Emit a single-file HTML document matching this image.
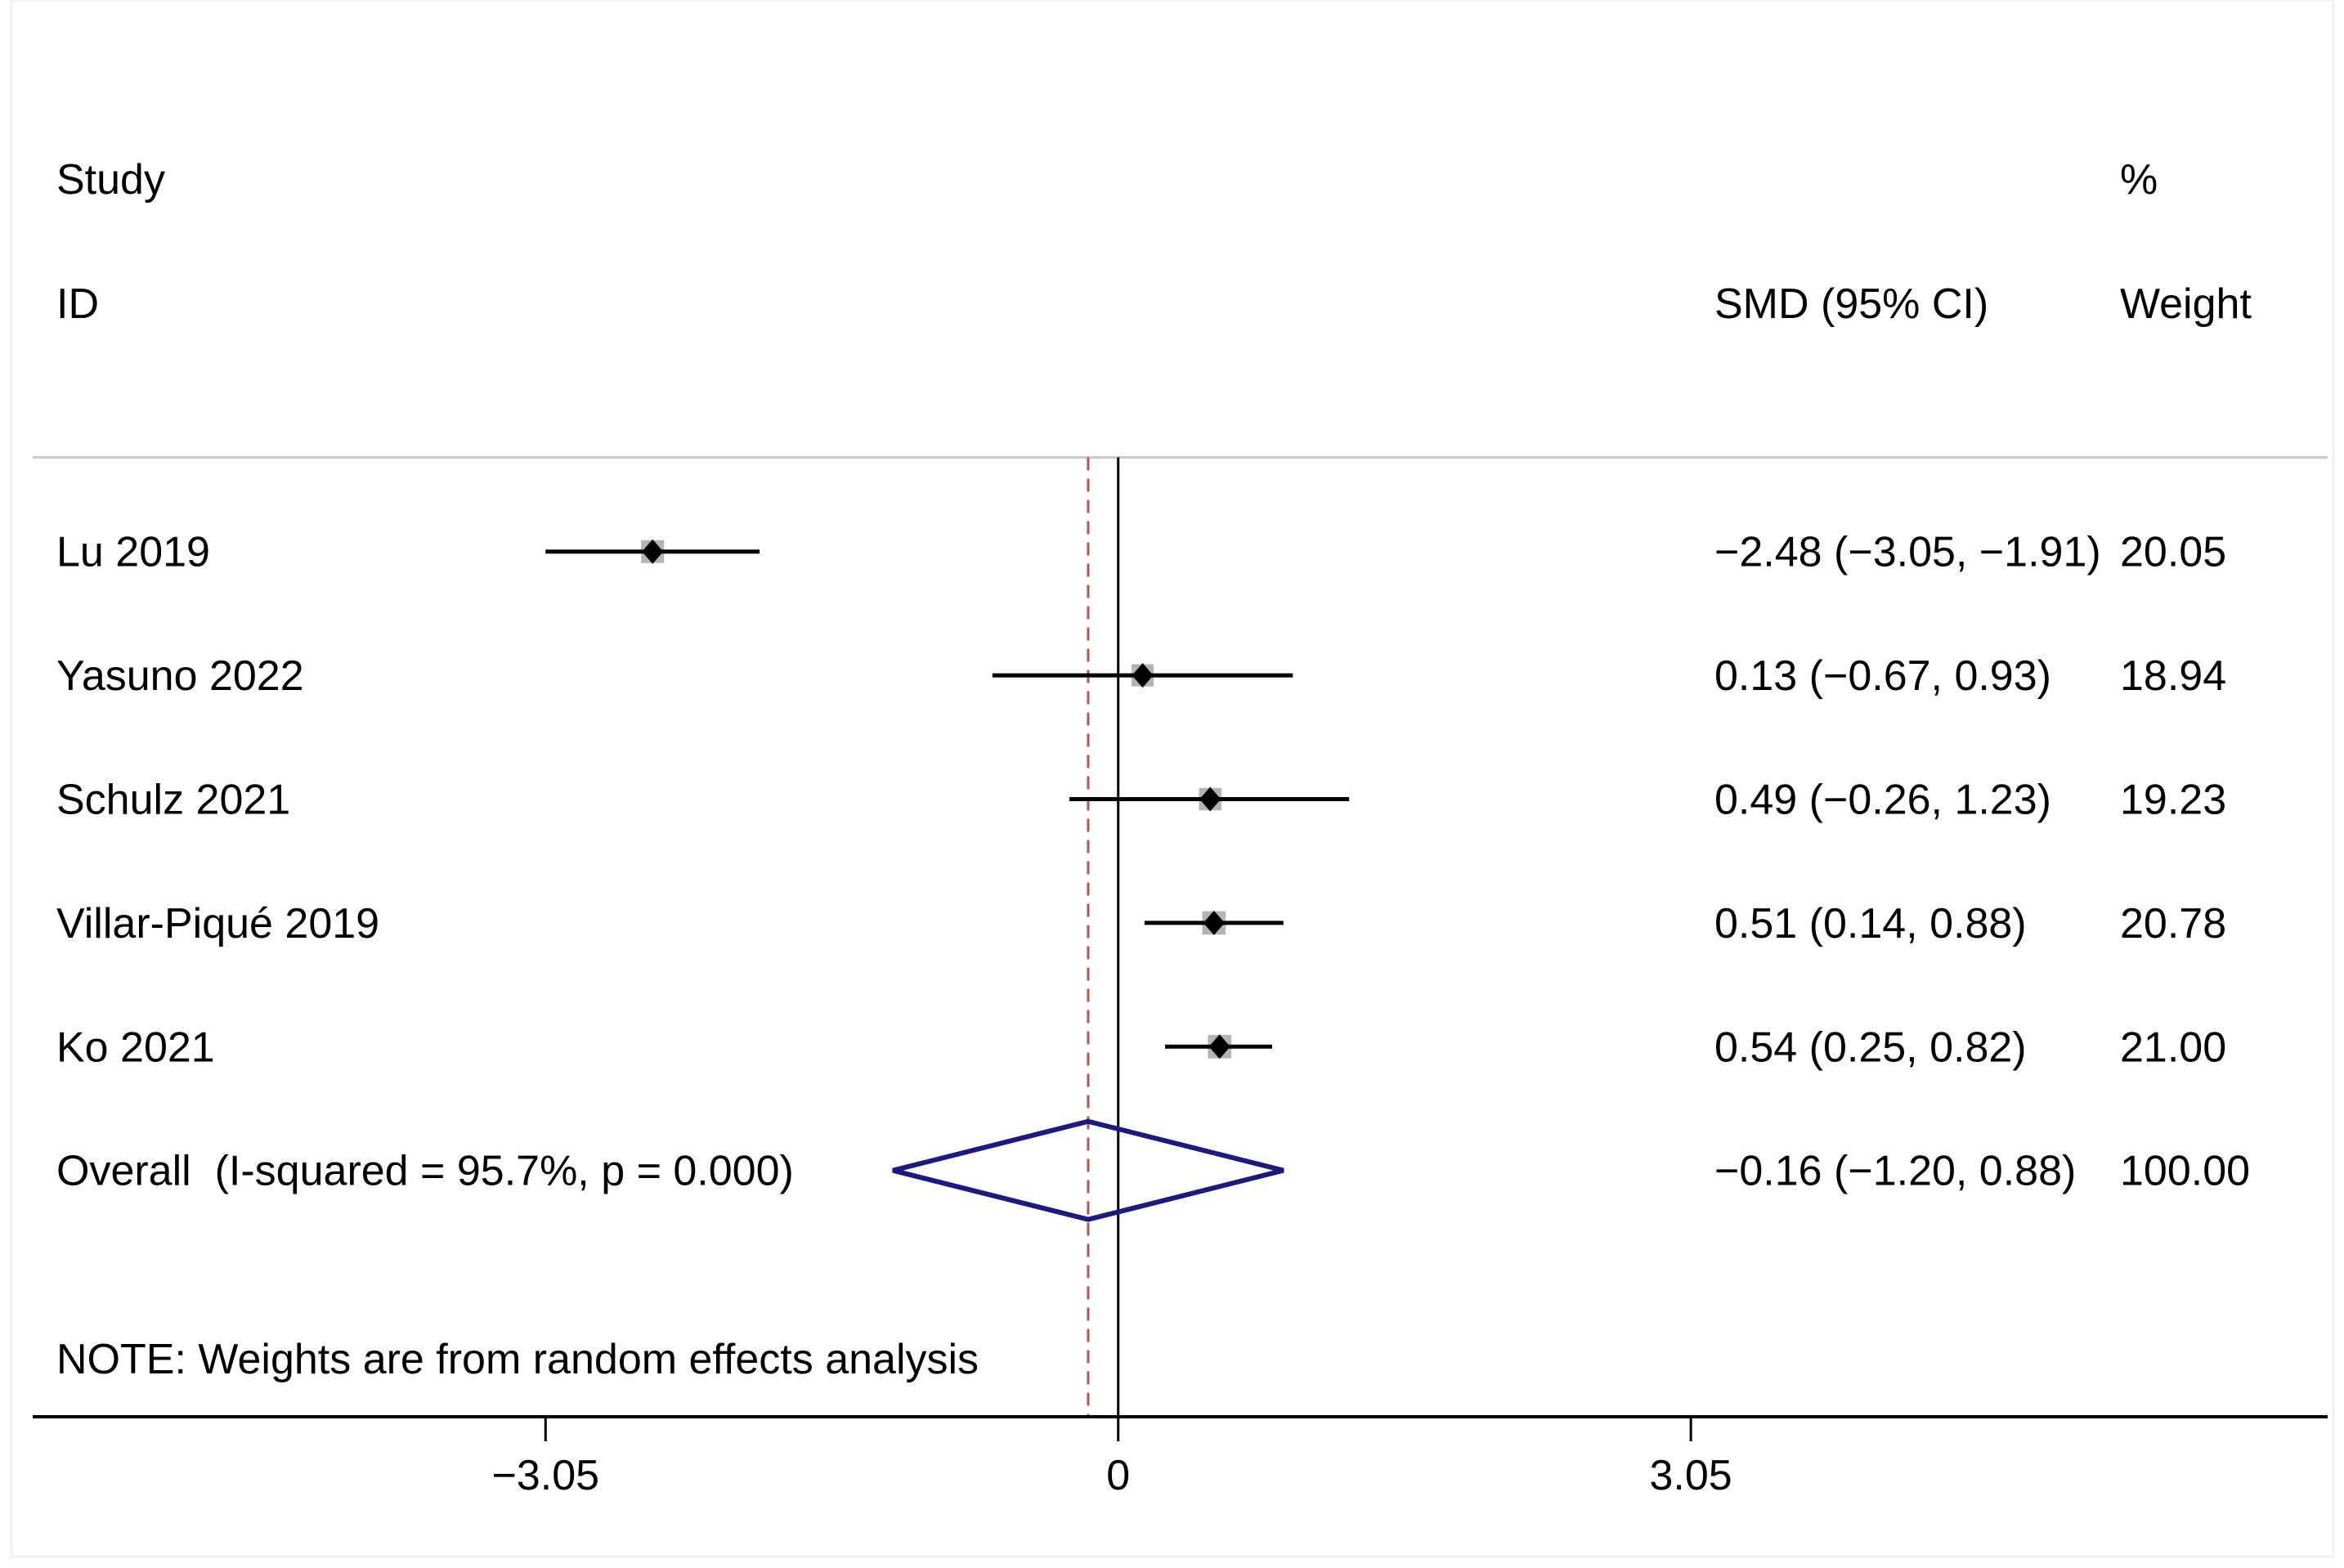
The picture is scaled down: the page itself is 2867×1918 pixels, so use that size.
<!DOCTYPE html>
<html><head><meta charset="utf-8"><style>
html,body{margin:0;padding:0;background:#fff}
svg{display:block}
text{font-family:"Liberation Sans",Arial,sans-serif;font-size:52px;fill:#000}
</style></head><body>
<svg id="chart" width="2867" height="1918" viewBox="0 0 2867 1918" xmlns="http://www.w3.org/2000/svg">
<rect x="14" y="0" width="2840" height="1904" fill="none" stroke="#f2f2f2" stroke-width="3"/>
<text x="69" y="237">Study</text>
<text x="2593" y="237">%</text>
<text x="69" y="389">ID</text>
<text x="2097" y="389">SMD (95% CI)</text>
<text x="2593" y="389">Weight</text>
<line x1="40" y1="559.5" x2="2847" y2="559.5" stroke="#c8c8c8" stroke-width="3"/>
<g id="marks"></g>
<text x="69" y="1680">NOTE: Weights are from random effects analysis</text>
</svg>
<script>
const studies = ["Lu 2019","Yasuno 2022","Schulz 2021","Villar-Piqué 2019","Ko 2021"];
const smd = [-2.48, 0.13, 0.49, 0.51, 0.54];
const lower = [-3.05, -0.67, -0.26, 0.14, 0.25];
const upper = [-1.91, 0.93, 1.23, 0.88, 0.82];
const weights = ["20.05","18.94","19.23","20.78","21.00"];
const ciLabels = ["\u22122.48 (\u22123.05, \u22121.91)","0.13 (\u22120.67, 0.93)","0.49 (\u22120.26, 1.23)","0.51 (0.14, 0.88)","0.54 (0.25, 0.82)"];
const overall = [-0.16, -1.20, 0.88];
const overallLabel = "\u22120.16 (\u22121.20, 0.88)";
const overallText = "Overall\u00a0\u00a0(I-squared = 95.7%, p = 0.000)";
const tickValues = [-3.05, 0, 3.05];
const tickLabels = ["\u22123.05","0","3.05"];

const NS="http://www.w3.org/2000/svg";
const g=document.getElementById('marks');
const X0=1367.7, K=125.6*1.8284;
function xs(v){return X0+v*K;}
function ys(i){return 674.7+i*151.4;}
function mk(tag,attrs,parent){const e=document.createElementNS(NS,tag);for(const k in attrs)e.setAttribute(k,attrs[k]);(parent||g).appendChild(e);return e;}
const plotTop=559.5, axisY=1733;
let l=mk('line',{x1:xs(0),y1:plotTop,x2:xs(0),y2:axisY,stroke:'#000','stroke-width':3});


l=mk('line',{x1:xs(overall[0]),y1:plotTop,x2:xs(overall[0]),y2:axisY,stroke:'#c0504d','stroke-width':3,'stroke-dasharray':'16 10'});


for(let i=0;i<studies.length;i++){
  const y=ys(i);
  let t=mk('text',{x:69,y:y+18});t.textContent=studies[i];
  
  
  t=mk('text',{x:2097,y:y+18});t.textContent=ciLabels[i];
  
  
  t=mk('text',{x:2593,y:y+18});t.textContent=weights[i];
  
  
  const s=28*Math.sqrt(parseFloat(weights[i])/20);
  let b=mk('rect',{x:xs(smd[i])-s/2,y:y-s/2,width:s,height:s,fill:'#b4b4b4'});
  
  
  let c=mk('line',{x1:xs(lower[i]),y1:y,x2:xs(upper[i]),y2:y,stroke:'#000','stroke-width':5});
  
  
  const cx=xs(smd[i]);
  let d=mk('polygon',{points:`${cx-13},${y} ${cx},${y-15} ${cx+13},${y} ${cx},${y+15}`,fill:'#000'});
  
  
}
const oy=ys(5);
let t=mk('text',{x:69,y:oy+18});t.textContent=overallText;


t=mk('text',{x:2097,y:oy+18});t.textContent=overallLabel;


t=mk('text',{x:2593,y:oy+18});t.textContent="100.00";


let dm=mk('polygon',{points:`${xs(overall[1])},${oy} ${xs(overall[0])},${oy-60} ${xs(overall[2])},${oy} ${xs(overall[0])},${oy+60}`,fill:'none',stroke:'#1a1a80','stroke-width':6});


let ax=mk('line',{x1:40,y1:axisY,x2:2847,y2:axisY,stroke:'#000','stroke-width':4});


for(let i=0;i<tickValues.length;i++){
  const x=xs(tickValues[i]);
  let tk=mk('line',{x1:x,y1:axisY,x2:x,y2:axisY+30,stroke:'#000','stroke-width':3});
  
  
  let tl=mk('text',{x:x,y:1822,'text-anchor':'middle'});tl.textContent=tickLabels[i];
  
  
}
</script>
</body></html>
